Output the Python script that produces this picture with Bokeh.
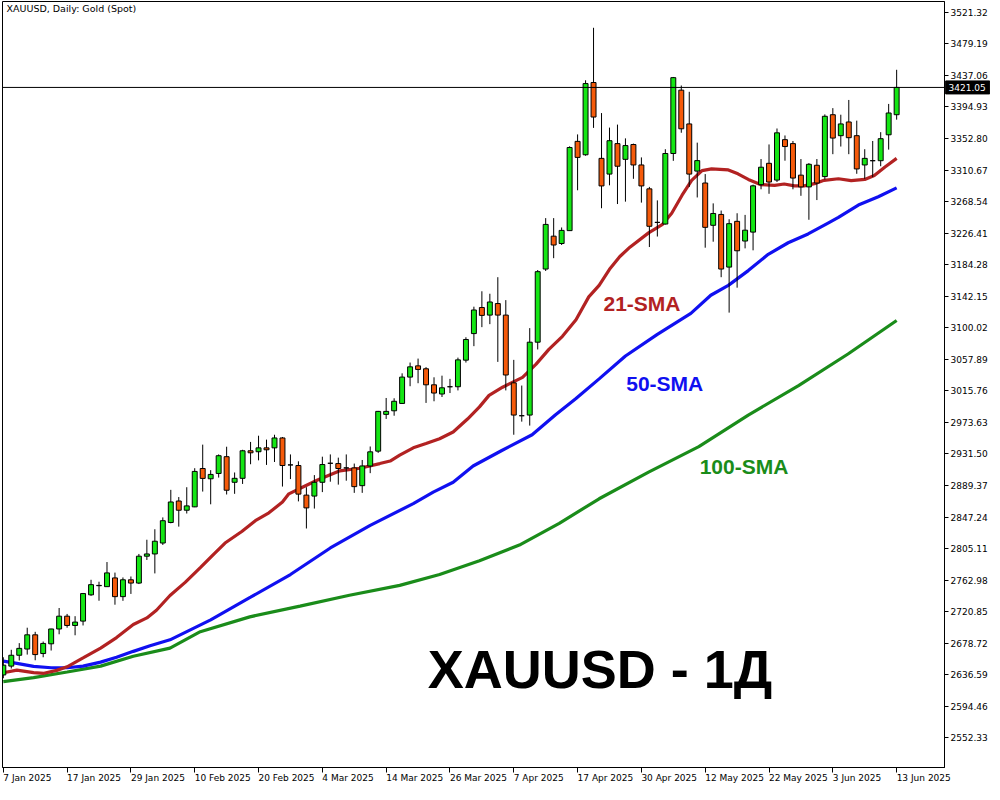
from bokeh.plotting import figure
from bokeh.models import ColumnDataSource, Range1d, FixedTicker, PrintfTickFormatter, Span, Label
from bokeh.core.properties import value
from bokeh.embed import file_html
from bokeh.resources import INLINE

# ---- candle data (XAUUSD daily, 7 Jan 2025 .. 13 Jun 2025) ----
opens = [2636.4, 2648.2, 2662.7, 2671.0, 2690.0, 2665.0, 2678.0, 2697.8, 2714.9, 2702.5,
         2708.3, 2743.4, 2755.6, 2754.3, 2766.0, 2741.0, 2763.5, 2759.1, 2795.0, 2798.0,
         2812.6, 2840.0, 2868.7, 2856.4, 2860.9, 2912.1, 2898.4, 2905.5, 2927.9, 2893.7,
         2899.0, 2935.8, 2934.5, 2939.7, 2939.7, 2952.9, 2916.9, 2916.1, 2876.6, 2875.3,
         2893.7, 2919.1, 2918.7, 2912.9, 2912.9, 2889.2, 2915.5, 2935.3, 2984.4, 2989.2,
         2999.0, 3034.2, 3049.2, 3045.3, 3023.9, 3011.6, 3021.3, 3021.3, 3056.8, 3092.3,
         3127.1, 3117.0, 3132.4, 3117.0, 3026.5, 2982.6, 2983.5, 3080.8, 3178.5, 3222.4,
         3212.6, 3229.8, 3349.0, 3331.1, 3427.6, 3326.3, 3305.3, 3346.0, 3325.0, 3344.8,
         3317.5, 3285.6, 3240.8, 3238.6, 3332.8, 3417.4, 3372.3, 3309.3, 3293.4, 3236.9,
         3251.4, 3181.1, 3242.2, 3215.9, 3227.8, 3291.2, 3319.7, 3297.3, 3351.3, 3346.0,
         3303.9, 3288.2, 3317.1, 3302.0, 3384.6, 3356.6, 3374.9, 3356.6, 3317.5, 3323.2,
         3323.2, 3357.8, 3384.6]
highs = [2660.0, 2670.0, 2678.9, 2699.5, 2694.0, 2681.0, 2698.0, 2725.8, 2717.9, 2714.9,
         2745.9, 2763.5, 2760.9, 2787.2, 2773.1, 2766.6, 2767.9, 2798.0, 2817.0, 2831.0,
         2846.8, 2883.6, 2874.0, 2887.1, 2912.5, 2944.0, 2909.9, 2930.9, 2941.2, 2906.8,
         2937.1, 2947.6, 2955.9, 2950.7, 2957.2, 2954.2, 2930.9, 2921.7, 2887.1, 2903.3,
         2927.9, 2930.9, 2926.6, 2930.9, 2918.7, 2923.5, 2941.5, 2989.0, 3006.3, 3005.9,
         3039.2, 3053.6, 3058.9, 3047.5, 3033.9, 3036.1, 3031.8, 3060.2, 3087.4, 3128.2,
         3148.8, 3145.5, 3167.6, 3137.0, 3057.2, 3022.9, 3099.6, 3177.2, 3246.5, 3246.5,
         3234.0, 3342.4, 3358.3, 3430.6, 3500.7, 3386.8, 3367.4, 3371.4, 3353.0, 3346.0,
         3327.6, 3288.2, 3270.2, 3338.5, 3435.0, 3423.6, 3415.2, 3347.3, 3305.3, 3266.2,
         3256.6, 3245.0, 3253.0, 3250.8, 3291.2, 3325.4, 3344.9, 3366.2, 3356.9, 3349.5,
         3325.4, 3320.0, 3325.4, 3385.0, 3393.4, 3384.6, 3404.3, 3376.7, 3338.5, 3349.5,
         3361.3, 3399.0, 3444.6]
lows = [2632.0, 2645.0, 2655.7, 2663.6, 2656.0, 2660.0, 2669.0, 2690.7, 2699.5, 2689.4,
        2702.5, 2742.0, 2735.5, 2754.3, 2730.2, 2735.4, 2744.6, 2757.8, 2790.0, 2772.0,
        2810.0, 2838.9, 2834.5, 2852.0, 2860.5, 2881.3, 2864.3, 2900.0, 2877.4, 2878.3,
        2891.5, 2917.8, 2923.0, 2916.9, 2920.8, 2888.0, 2898.0, 2868.2, 2832.0, 2858.6,
        2880.6, 2894.5, 2890.6, 2895.8, 2879.6, 2879.6, 2905.9, 2933.0, 2978.3, 2982.6,
        2998.6, 3022.0, 3026.0, 2999.7, 3001.9, 3007.6, 3012.9, 3016.4, 3053.6, 3075.5,
        3100.9, 3104.9, 3054.5, 3016.4, 2957.2, 2974.7, 2969.4, 3071.1, 3175.9, 3193.0,
        3210.6, 3229.8, 3283.7, 3329.8, 3367.0, 3259.7, 3290.3, 3265.3, 3268.5, 3299.0,
        3267.2, 3207.9, 3221.9, 3238.0, 3323.0, 3360.5, 3288.2, 3274.1, 3207.0, 3215.0,
        3167.6, 3120.3, 3153.6, 3206.1, 3203.5, 3285.0, 3279.0, 3294.7, 3323.2, 3285.0,
        3276.3, 3244.3, 3270.6, 3298.0, 3331.9, 3342.1, 3331.9, 3305.7, 3299.0, 3301.3,
        3315.8, 3338.0, 3378.0]
closes = [2649.5, 2662.7, 2671.9, 2690.0, 2663.6, 2678.5, 2697.8, 2714.9, 2702.5, 2707.0,
          2745.1, 2757.0, 2756.0, 2772.7, 2741.0, 2763.5, 2759.1, 2795.0, 2798.0, 2815.0,
          2842.4, 2867.4, 2856.4, 2862.2, 2908.2, 2898.9, 2904.2, 2929.2, 2883.1, 2899.0,
          2935.8, 2933.1, 2939.7, 2937.1, 2952.9, 2916.1, 2916.9, 2877.9, 2859.5, 2893.7,
          2917.4, 2919.1, 2912.1, 2912.9, 2887.9, 2915.5, 2934.4, 2988.4, 2988.4, 3001.9,
          3034.2, 3047.9, 3044.4, 3023.9, 3012.9, 3019.9, 3021.3, 3057.2, 3084.4, 3123.8,
          3116.6, 3134.5, 3117.0, 3037.0, 2983.5, 2982.6, 3080.8, 3175.0, 3238.1, 3210.6,
          3230.1, 3340.8, 3327.6, 3426.2, 3381.5, 3289.5, 3349.9, 3315.8, 3343.4, 3317.5,
          3289.5, 3235.6, 3240.8, 3332.8, 3434.1, 3365.8, 3305.3, 3323.3, 3234.2, 3252.7,
          3178.5, 3239.1, 3202.9, 3230.4, 3289.6, 3314.5, 3294.7, 3360.4, 3342.1, 3300.0,
          3288.2, 3318.4, 3293.4, 3382.5, 3353.4, 3372.3, 3353.9, 3312.2, 3326.3, 3323.2,
          3352.6, 3386.9, 3421.05]

date_labels = ["7 Jan 2025", "17 Jan 2025", "29 Jan 2025", "10 Feb 2025", "20 Feb 2025",
               "4 Mar 2025", "14 Mar 2025", "26 Mar 2025", "7 Apr 2025", "17 Apr 2025",
               "30 Apr 2025", "12 May 2025", "22 May 2025", "3 Jun 2025", "13 Jun 2025"]
price_ticks = [2552.33, 2594.46, 2636.59, 2678.72, 2720.85, 2762.98, 2805.11, 2847.24,
               2889.37, 2931.50, 2973.63, 3015.76, 3057.89, 3100.02, 3142.15, 3184.28,
               3226.41, 3268.54, 3310.67, 3352.80, 3394.93, 3437.06, 3479.19, 3521.32]
last_price = 3421.05

# ---- moving averages (bar position, value) ----
ma21_pos = [0, 1.7, 3.8, 5.1, 6.7, 8, 10, 12.2, 14.2, 16.3, 18, 19.2, 20.9, 22.8, 24.7, 26.3,
            27.8, 29.9, 31.6, 33.3, 35, 35.8, 37.5, 39.4, 42.2, 44.7, 47.2, 48.5, 49.7, 51.4,
            53, 54.7, 56.4, 58.2, 59.7, 60.9, 62.6, 65.1, 66.8, 68.4, 70.1, 71.8, 73.4, 74.7,
            76, 77.3, 78.6, 80.9, 82.6, 83.8, 85.1, 86.3, 87.6, 88.8, 90.9, 92.1, 93.4, 95,
            96.7, 97.9, 99.2, 100.4, 101.7, 102.9, 104.7, 106.3, 108, 109.2, 110.5, 112]
ma21_val = [2639.4, 2642.9, 2639.4, 2638.6, 2642.5, 2647.3, 2659.1, 2672.3, 2686.3, 2703.8,
            2712.6, 2722.8, 2742.5, 2760.0, 2779.7, 2796.8, 2812.6, 2828.0, 2842.4, 2852.9,
            2867.4, 2878.3, 2887.1, 2896.7, 2909.0, 2912.5, 2918.7, 2922.1, 2930.0, 2939.7,
            2945.4, 2951.9, 2960.8, 2978.2, 2994.4, 3009.8, 3020.7, 3033.9, 3051.5, 3071.2,
            3088.7, 3110.7, 3141.3, 3156.7, 3178.1, 3195.2, 3208.0, 3226.8, 3237.7, 3253.1,
            3277.1, 3296.8, 3310.0, 3312.2, 3310.9, 3305.7, 3298.2, 3291.2, 3290.3, 3292.1,
            3289.5, 3289.5, 3292.5, 3297.0, 3299.1, 3296.5, 3298.2, 3303.4, 3314.5, 3326.3]
ma50_pos = [0, 1.7, 3.8, 6, 8, 10, 12.2, 14.2, 16.3, 18.4, 20.9, 26, 31, 36, 41, 46, 51.4,
            53.9, 56.4, 58.9, 62.5, 66.3, 69.2, 71.8, 74.7, 78, 82, 86.2, 88.7, 90.9, 93.4,
            95.9, 98.4, 100.9, 103.4, 104.7, 107.2, 109.7, 112]
ma50_val = [2654.8, 2651.8, 2647.8, 2646.0, 2646.0, 2648.2, 2653.5, 2660.0, 2667.9, 2675.4,
            2683.3, 2710.0, 2740.2, 2770.5, 2806.0, 2836.2, 2865.2, 2880.5, 2893.7, 2915.5,
            2936.2, 2957.2, 2983.5, 3005.5, 3031.8, 3062.4, 3091.3, 3119.3, 3143.5, 3156.7,
            3176.4, 3198.2, 3213.6, 3225.4, 3239.9, 3247.4, 3264.0, 3275.0, 3286.9]
ma100_pos = [0, 3.8, 8, 12.2, 16.3, 20.9, 24.7, 30.9, 37.2, 43.4, 49.7, 54.7, 59.7, 64.7,
             69.7, 74.7, 80.9, 87.2, 93.4, 99.7, 105.9, 112]
ma100_val = [2627.6, 2632.8, 2640.3, 2648.2, 2661.3, 2672.3, 2694.2, 2714.0, 2728.4, 2742.9,
             2756.0, 2770.5, 2788.9, 2809.9, 2838.9, 2871.7, 2907.2, 2941.4, 2983.5, 3022.9,
             3065.0, 3109.7]

UP = "#14E614"
DOWN = "#F55A0A"
C21 = "#B22222"
C50 = "#1010F0"
C100 = "#1A8C1A"
X_END = 118.0

idx = list(range(len(closes)))
src = ColumnDataSource(dict(
    x=idx, o=opens, h=highs, l=lows, c=closes,
    top=[max(a, b) for a, b in zip(opens, closes)],
    bot=[min(a, b) for a, b in zip(opens, closes)],
    col=[UP if c >= o else DOWN for o, c in zip(opens, closes)],
))

p = figure(width=990, height=790, output_backend="svg", toolbar_location=None,
           x_range=Range1d(-0.1, X_END), y_range=Range1d(2512.8, 3535.8),
           y_axis_location="right", min_border_left=2, min_border_top=1,
           min_border_right=0, min_border_bottom=0)
p.background_fill_color = "white"
p.border_fill_color = "white"
p.outline_line_color = "black"
p.outline_line_width = 1
p.xgrid.visible = False
p.ygrid.visible = False

# moving averages
p.line(ma100_pos, ma100_val, line_color=C100, line_width=3.2)
p.line(ma50_pos, ma50_val, line_color=C50, line_width=3.2)
p.line(ma21_pos, ma21_val, line_color=C21, line_width=3.2)

# candles
p.segment(x0="x", y0="h", x1="x", y1="l", source=src, line_color="black", line_width=1)
p.vbar(x="x", top="top", bottom="bot", width=0.62, source=src,
       fill_color="col", line_color="black", line_width=1)

# last price line
p.add_layout(Span(location=last_price, dimension="width", line_color="black", line_width=1))

# axes
p.xaxis.ticker = FixedTicker(ticks=[i * 8 for i in range(len(date_labels))])
p.xaxis.major_label_overrides = {i * 8: lab for i, lab in enumerate(date_labels)}
p.xaxis.major_label_orientation = -0.0001
p.xaxis.major_label_text_font = "DejaVu Sans"
p.xaxis.major_label_text_font_size = "9px"
p.xaxis.major_label_text_color = "black"
p.xaxis.major_tick_out = 5
p.xaxis.major_tick_in = 0
p.xaxis.minor_tick_out = 0
p.xaxis.minor_tick_in = 0
p.xaxis.major_label_standoff = 5
p.xaxis.axis_line_color = "black"

p.yaxis.ticker = FixedTicker(ticks=price_ticks)
p.yaxis.formatter = PrintfTickFormatter(format="%.2f")
p.yaxis.major_label_text_font = "DejaVu Sans"
p.yaxis.major_label_text_font_size = "9px"
p.yaxis.major_label_text_color = "black"
p.yaxis.major_tick_out = 4
p.yaxis.major_tick_in = 0
p.yaxis.minor_tick_out = 0
p.yaxis.minor_tick_in = 0
p.yaxis.major_label_standoff = 2
p.yaxis.axis_line_color = "black"

# last price tag on the price scale (overlay level so it is drawn over the scale)
p.rect(x=[X_END + 2.9], y=[last_price], width=44, height=13, width_units="screen",
       height_units="screen", fill_color="black", line_color="black", level="overlay")
p.text(x=[X_END], y=[last_price], text=["%.2f" % last_price], x_offset=4,
       text_align="left", text_baseline="middle", text_color="white",
       text_font=value("DejaVu Sans"), text_font_size="9px", level="overlay")

# chart caption
p.add_layout(Label(x=0.4, y=3534.0, text="XAUUSD, Daily:  Gold (Spot)", text_align="left",
                   text_baseline="top", text_font="DejaVu Sans", text_font_size="9.5px",
                   text_color="black"))

# SMA labels
p.add_layout(Label(x=75.25, y=3132.0, text="21-SMA", text_color=C21, text_font="Liberation Sans",
                   text_font_style="bold", text_font_size="21px", text_baseline="alphabetic"))
p.add_layout(Label(x=78.1, y=3025.7, text="50-SMA", text_color=C50, text_font="Liberation Sans",
                   text_font_style="bold", text_font_size="21px", text_baseline="alphabetic"))
p.add_layout(Label(x=87.3, y=2915.0, text="100-SMA", text_color=C100, text_font="Liberation Sans",
                   text_font_style="bold", text_font_size="21px", text_baseline="alphabetic"))

# big title
p.add_layout(Label(x=53.2, y=2644.0, text="XAUUSD - 1Д", text_color="black",
                   text_font="Liberation Sans", text_font_style="bold", text_font_size="54px",
                   text_baseline="alphabetic"))

open("out.html", "w").write(file_html(p, INLINE))
